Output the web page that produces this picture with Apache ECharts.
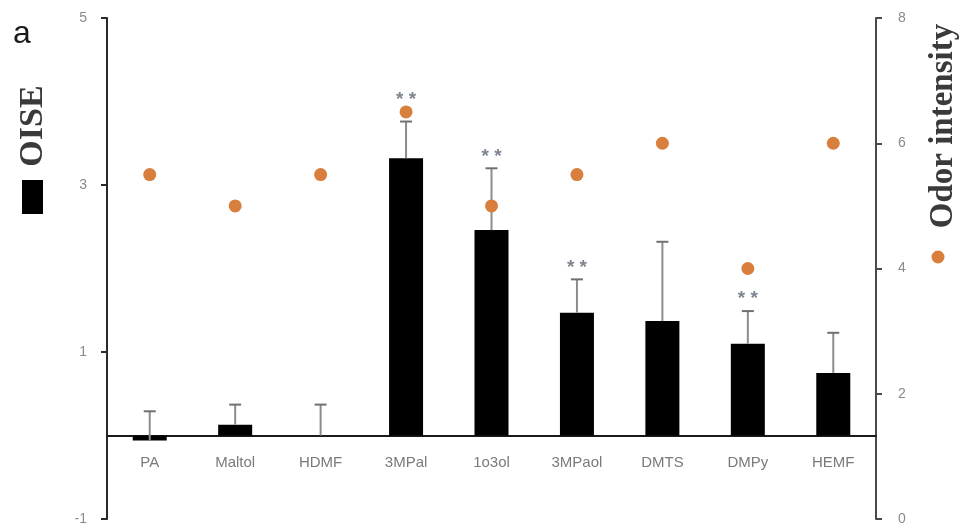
<!DOCTYPE html>
<html>
<head>
<meta charset="utf-8">
<script src="https://cdn.jsdelivr.net/npm/echarts@6/dist/echarts.min.js"></script>
<style>
html,body{margin:0;padding:0;background:#fff;}
#chart{width:963px;height:529px;}
</style>
</head>
<body>
<div id="chart"></div>
<script>
// ---- data ----
const categories = ['PA', 'Maltol', 'HDMF', '3MPal', '1o3ol', '3MPaol', 'DMTS', 'DMPy', 'HEMF'];
const oise = [-0.06, 0.13, 0, 3.32, 2.46, 1.47, 1.37, 1.10, 0.75];
const oiseErr = [0.35, 0.24, 0.37, 0.44, 0.74, 0.40, 0.95, 0.39, 0.48];
const odorIntensity = [5.5, 5, 5.5, 6.5, 5, 5.5, 6, 4, 6];
const significance = ['', '', '', '**', '**', '**', '', '**', ''];
const leftTicks = [-1, 1, 3, 5];
const rightTicks = [0, 2, 4, 6, 8];

// ---- axes ranges ----
const LEFT_MIN = -1, LEFT_MAX = 5;
const RIGHT_MIN = 0, RIGHT_MAX = 8;

const W = 963, H = 529;
const GRID = {left: 107, right: 87, top: 18, bottom: 10};
const gridHeight = H - GRID.top - GRID.bottom;
// x axis sits at value 0 of the left axis
const zeroOffset = -((0 - LEFT_MIN) / (LEFT_MAX - LEFT_MIN)) * gridHeight;

const chart = echarts.init(document.getElementById('chart'), null, {renderer: 'canvas', width: W, height: H});
const labelFont = 'Liberation Sans, Arial, sans-serif';
const serif = 'Liberation Serif, Times New Roman, serif';

function rightToLeft(v) {
  return LEFT_MIN + (v - RIGHT_MIN) / (RIGHT_MAX - RIGHT_MIN) * (LEFT_MAX - LEFT_MIN);
}

const option = {
  animation: false,
  backgroundColor: '#ffffff',
  grid: {left: GRID.left, right: GRID.right, top: GRID.top, bottom: GRID.bottom, containLabel: false, outerBoundsMode: 'none'},
  xAxis: {
    type: 'category',
    data: categories,
    boundaryGap: true,
    offset: zeroOffset,
    axisLine: {onZero: false, lineStyle: {color: '#1a1a1a', width: 2}},
    axisTick: {show: false},
    axisLabel: {color: '#7a7a7a', fontSize: 15, fontFamily: labelFont, margin: 20},
    splitLine: {show: false}
  },
  yAxis: [
    {
      type: 'value', min: LEFT_MIN, max: LEFT_MAX, position: 'left',
      axisLine: {show: true, lineStyle: {color: '#2a2a2a', width: 2}},
      axisTick: {show: true, length: 6, customValues: leftTicks, lineStyle: {color: '#2a2a2a', width: 2}},
      axisLabel: {customValues: leftTicks, color: '#8a8a8a', fontSize: 14, fontFamily: labelFont, margin: 20},
      splitLine: {show: false}
    },
    {
      type: 'value', min: RIGHT_MIN, max: RIGHT_MAX, position: 'right',
      axisLine: {show: true, lineStyle: {color: '#4a4a4a', width: 2}},
      axisTick: {show: true, length: 6, customValues: rightTicks, lineStyle: {color: '#4a4a4a', width: 2}},
      axisLabel: {customValues: rightTicks, color: '#8a8a8a', fontSize: 14, fontFamily: labelFont, margin: 22},
      splitLine: {show: false}
    }
  ],
  series: [
    {
      name: 'OISE', type: 'bar', yAxisIndex: 0, data: oise, barWidth: 34,
      itemStyle: {color: '#000000'}, z: 2
    },
    {
      name: 'errors', type: 'custom', yAxisIndex: 0, z: 3,
      data: categories.map((c, i) => [i, oise[i], oiseErr[i]]),
      renderItem: function (params, api) {
        const i = api.value(0);
        const v = api.value(1);
        const e = api.value(2);
        const base = api.coord([i, v]);
        const top = api.coord([i, v + e]);
        const capHalf = 6;
        const children = [
          {type: 'line', shape: {x1: base[0], y1: base[1], x2: top[0], y2: top[1]},
           style: {stroke: '#8c8c8c', lineWidth: 2}},
          {type: 'line', shape: {x1: top[0] - capHalf, y1: top[1], x2: top[0] + capHalf, y2: top[1]},
           style: {stroke: '#707070', lineWidth: 2}}
        ];
        const sig = significance[params.dataIndex];
        if (sig) {
          let anchor = top[1];
          const dotPx = api.coord([i, rightToLeft(odorIntensity[params.dataIndex])])[1];
          if (dotPx < anchor + 2 && anchor - dotPx < 20) anchor = dotPx;
          children.push({
            type: 'text',
            style: {
              text: '* *', x: top[0], y: anchor - 12, align: 'center', verticalAlign: 'middle',
              fill: '#7d8691', font: 'bold 19px ' + labelFont
            }
          });
        }
        return {type: 'group', children: children};
      }
    },
    {
      name: 'Odor intensity', type: 'scatter', yAxisIndex: 1, data: odorIntensity,
      symbol: 'circle', symbolSize: 13, itemStyle: {color: '#D97F3E', opacity: 1}, z: 4
    }
  ],
  graphic: [
    {type: 'text', left: 13, top: 18, style: {text: 'a', font: '32px ' + labelFont, fill: '#1a1a1a'}},
    {type: 'text', x: 33, y: 126, rotation: Math.PI / 2,
     style: {text: 'OISE', font: 'bold 34px ' + serif, fill: '#3a3a3a', align: 'center', verticalAlign: 'middle'}},
    {type: 'rect', shape: {x: 22, y: 180, width: 21, height: 34}, style: {fill: '#000000'}},
    {type: 'text', x: 943, y: 126, rotation: Math.PI / 2,
     style: {text: 'Odor intensity', font: 'bold 33px ' + serif, fill: '#3a3a3a', align: 'center', verticalAlign: 'middle'}},
    {type: 'circle', shape: {cx: 938, cy: 257, r: 6.5}, style: {fill: '#D97F3E'}}
  ]
};
chart.setOption(option);
</script>
</body>
</html>
